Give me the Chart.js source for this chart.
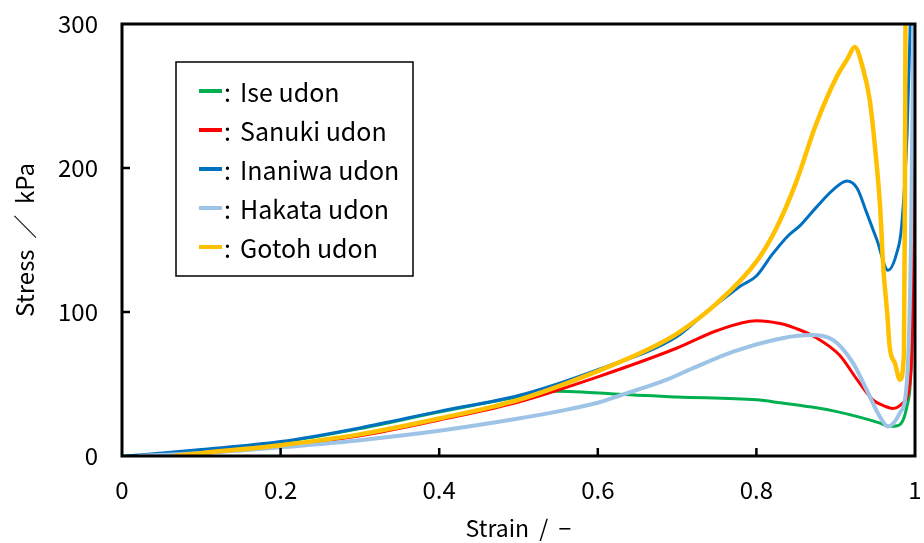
<!DOCTYPE html>
<html><head><meta charset="utf-8">
<script src="https://cdn.jsdelivr.net/npm/chart.js@4"></script>
<style>html,body{margin:0;padding:0;background:#fff}#wrap{width:924px;height:543px;position:relative}</style>
</head><body><div id="wrap"><canvas id="c" width="924" height="543"></canvas></div>
<script>
const seriesNames = ["Ise udon", "Sanuki udon", "Inaniwa udon", "Hakata udon", "Gotoh udon"];
const xTicks = [0, 0.2, 0.4, 0.6, 0.8, 1];
const yTicks = [0, 100, 200, 300];

const iseStrain  = [0, 0.015, 0.1, 0.2, 0.3, 0.4, 0.5, 0.55, 0.58, 0.62, 0.7, 0.8, 0.83, 0.87, 0.9, 0.93, 0.955, 0.968, 0.978, 0.985, 0.99, 0.994, 0.996, 0.998, 1.0];
const iseStress  = [0, 0, 4, 9.5, 19, 30.5, 41, 45, 44.5, 43, 41, 39, 37, 34, 31, 27, 23, 20.5, 21, 25, 35, 50, 80, 150, 300];

const sanukiStrain = [0.01, 0.1, 0.2, 0.3, 0.4, 0.5, 0.6, 0.7, 0.75, 0.8, 0.83, 0.855, 0.876, 0.905, 0.927, 0.947, 0.96, 0.972, 0.985, 0.994, 0.997, 1.0];
const sanukiStress = [0, 2, 7, 14, 25, 37.5, 55, 75, 87, 94, 92, 87.5, 82, 70, 53, 39, 35, 33, 37, 53, 100, 300];

const inaniwaStrain = [0.005, 0.1, 0.2, 0.3, 0.4, 0.5, 0.6, 0.7, 0.737, 0.763, 0.78, 0.8, 0.82, 0.84, 0.855, 0.876, 0.897, 0.914, 0.927, 0.939, 0.952, 0.966, 0.977, 0.983, 0.99, 0.994];
const inaniwaStress = [0, 4.5, 10, 19.5, 31, 42, 60, 83, 100, 111, 118, 125, 140, 153, 160, 173, 185, 191, 186, 169, 150, 129, 141, 159, 224, 300];

const hakataStrain = [0.02, 0.1, 0.2, 0.3, 0.4, 0.5, 0.55, 0.6, 0.628, 0.65, 0.687, 0.72, 0.771, 0.834, 0.868, 0.897, 0.922, 0.939, 0.956, 0.966, 0.981, 0.99, 0.995, 0.998];
const hakataStress = [0, 2, 6, 11, 17.5, 26, 31, 37, 42, 46, 53, 61, 72.5, 82, 84, 80.5, 64.5, 46, 27, 20.5, 30, 53, 150, 300];

const gotohStrain = [0.065, 0.1, 0.2, 0.3, 0.4, 0.5, 0.6, 0.667, 0.7, 0.75, 0.8, 0.825, 0.85, 0.875, 0.9, 0.915, 0.924, 0.934, 0.943, 0.95, 0.956, 0.96, 0.965, 0.968, 0.975, 0.981, 0.986, 0.987, 0.988];
const gotohStress = [0, 2, 7.5, 15, 26, 39, 59, 75, 85, 106, 135, 158, 190, 230, 262, 276, 284, 270, 247, 212, 173, 131, 99, 76, 64, 53, 70, 150, 300];

const colors = ["#00B050", "#FF0000", "#0070C0", "#9DC3E6", "#FFC000"];
const widths = [3, 3, 3, 4, 4.5];
const orders = [5, 4, 3, 2, 1];

function pts(xs, ys) { return xs.map((x, i) => ({x: x, y: ys[i]})); }
const allData = [pts(iseStrain, iseStress), pts(sanukiStrain, sanukiStress), pts(inaniwaStrain, inaniwaStress), pts(hakataStrain, hakataStress), pts(gotohStrain, gotohStress)];

const FONT = '"Noto Sans CJK JP", "Noto Sans", sans-serif';

const framePlugin = {
  id: 'frame',
  afterDatasetsDraw(chart) {
    const {ctx, chartArea: a, scales} = chart;
    ctx.save();
    ctx.strokeStyle = '#000';
    ctx.lineWidth = 3;
    ctx.strokeRect(a.left, a.top, a.right - a.left, a.bottom - a.top);
    ctx.lineWidth = 2.5;
    ctx.beginPath();
    xTicks.forEach(v => {
      if (v === 0 || v === 1) return;
      const x = scales.x.getPixelForValue(v);
      ctx.moveTo(x, a.bottom); ctx.lineTo(x, a.bottom - 8);
    });
    yTicks.forEach(v => {
      if (v === 0 || v === 300) return;
      const y = scales.y.getPixelForValue(v);
      ctx.moveTo(a.left, y); ctx.lineTo(a.left + 8, y);
    });
    ctx.stroke();
    // legend
    const lx = 176, ly = 62, lw = 237, lh = 214;
    ctx.fillStyle = '#fff';
    ctx.fillRect(lx, ly, lw, lh);
    ctx.lineWidth = 1.5;
    ctx.strokeStyle = '#000';
    ctx.strokeRect(lx, ly, lw, lh);
    ctx.font = '25px ' + FONT;
    ctx.textBaseline = 'middle';
    ctx.textAlign = 'left';
    chart.data.datasets.forEach((ds, i) => {
      const y = 91 + i * 39;
      ctx.strokeStyle = ds.borderColor;
      ctx.lineWidth = 4;
      ctx.beginPath(); ctx.moveTo(199, y); ctx.lineTo(222, y); ctx.stroke();
      ctx.fillStyle = '#000';
      ctx.fillText(':', 224, y + 1);
      ctx.fillText(ds.label, 240, y + 1);
    });
    ctx.restore();
  }
};

new Chart(document.getElementById('c'), {
  type: 'line',
  data: {
    datasets: allData.map((d, i) => ({
      label: seriesNames[i],
      data: d,
      borderColor: colors[i],
      backgroundColor: colors[i],
      borderWidth: widths[i],
      pointRadius: 0,
      fill: false,
      order: orders[i],
      cubicInterpolationMode: 'monotone'
    }))
  },
  options: {
    responsive: false,
    animation: false,
    devicePixelRatio: 1,
    layout: {padding: {top: 24, right: 9, left: 0, bottom: 0}},
    plugins: {legend: {display: false}, tooltip: {enabled: false}},
    scales: {
      x: {
        type: 'linear', min: 0, max: 1,
        afterFit(s) { s.height = 87; s.paddingLeft = 0; s.paddingRight = 0; },
        afterBuildTicks(s) { s.ticks = xTicks.map(v => ({value: v})); },
        grid: {display: false, drawTicks: false},
        border: {display: false},
        ticks: {padding: 19, color: '#000', font: {family: FONT, size: 24}, maxRotation: 0,
          callback: v => (v === 0 || v === 1) ? String(v) : v.toFixed(1)},
        title: {display: true, text: 'Strain  /  −', color: '#000', font: {family: FONT, size: 23}, padding: {top: 0, bottom: 1}}
      },
      y: {
        type: 'linear', min: 0, max: 300,
        afterFit(s) { s.width = 122; s.paddingTop = 0; s.paddingBottom = 0; },
        afterBuildTicks(s) { s.ticks = yTicks.map(v => ({value: v})); },
        grid: {display: false, drawTicks: false},
        border: {display: false},
        ticks: {padding: 24, color: '#000', font: {family: FONT, size: 24}},
        title: {display: true, text: 'Stress  ／  kPa', color: '#000', font: {family: FONT, size: 24}, padding: {top: 10, bottom: 0}}
      }
    }
  },
  plugins: [framePlugin]
});
</script></body></html>
